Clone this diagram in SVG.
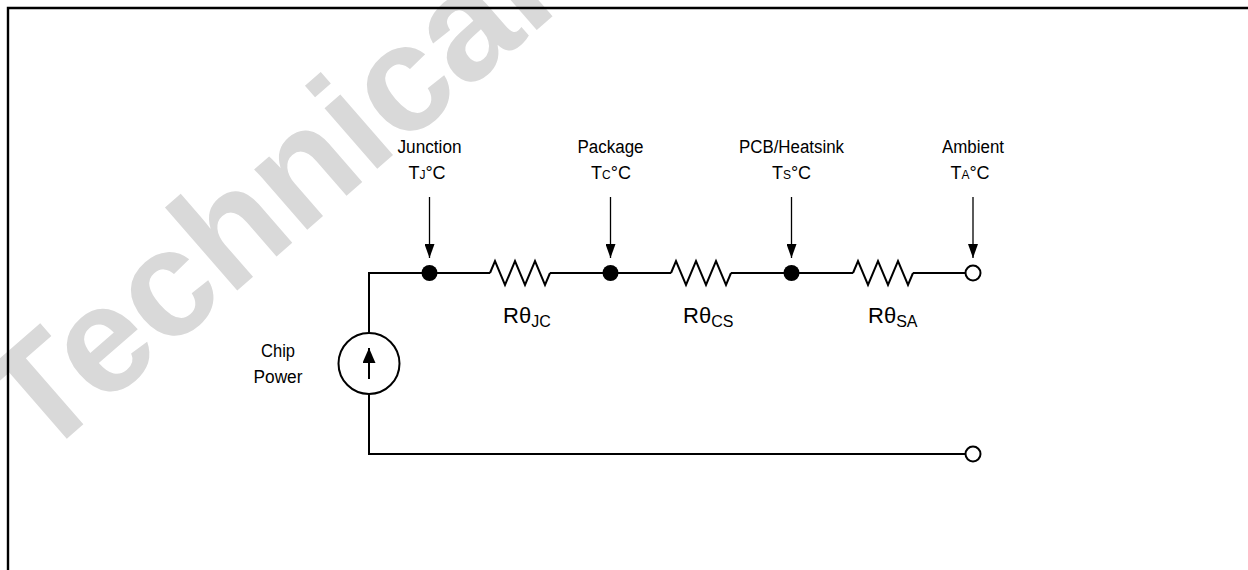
<svg xmlns="http://www.w3.org/2000/svg" width="1248" height="570" viewBox="0 0 1248 570">
<defs>
<style>
.t{font-family:"Liberation Sans",Arial,sans-serif;font-size:18px;fill:#000;text-anchor:middle}
.r{font-family:"Liberation Sans",Arial,sans-serif;font-size:22px;fill:#000}
.sub{font-size:16px}
.ss{font-size:12px}
.w{fill:none;stroke:#000;stroke-width:2;stroke-linejoin:miter}
.pt{fill:none;stroke:#000;stroke-width:1.3}
.dot{fill:#000}
.open{fill:#fff;stroke:#000;stroke-width:2}
.wm{font-family:"Liberation Sans",Arial,sans-serif;font-weight:bold;font-size:152px;fill:#d9d9d9}
</style>
<marker id="ah" markerUnits="userSpaceOnUse" markerWidth="14" markerHeight="10" refX="14" refY="5" orient="auto">
<path d="M0,0 L14,5 L0,10 Z" fill="#000"/>
</marker>
<marker id="ah2" markerUnits="userSpaceOnUse" markerWidth="15" markerHeight="13" refX="15" refY="6.5" orient="auto">
<path d="M0,0 L15,6.5 L0,13 Z" fill="#000"/>
</marker>
</defs>
<rect width="1248" height="570" fill="#fff"/>
<text class="wm" transform="translate(40,462) rotate(-41)">Technical</text>
<path d="M8,570 V8 H1248" fill="none" stroke="#000" stroke-width="2.4"/>

<g id="connectors">
<path class="w" d="M490,273 H369 V333"/>
<path class="w" d="M369,394 V454 H965"/>
<path class="w" d="M550,273 H671"/>
<path class="w" d="M731,273 H853"/>
<path class="w" d="M913,273 H965"/>
<line class="pt" x1="429.5" y1="197" x2="429.5" y2="258" marker-end="url(#ah)"/>
<line class="pt" x1="610.5" y1="197" x2="610.5" y2="258" marker-end="url(#ah)"/>
<line class="pt" x1="791.5" y1="197" x2="791.5" y2="258" marker-end="url(#ah)"/>
<line class="pt" x1="973" y1="197" x2="973" y2="258" marker-end="url(#ah)"/>
</g>

<g id="source">
<circle class="w" cx="369" cy="363.5" r="30.5"/>
<line x1="369" y1="379" x2="369" y2="348" stroke="#000" stroke-width="2" marker-end="url(#ah2)"/>
<text class="t" x="278" y="357" textLength="34" lengthAdjust="spacingAndGlyphs">Chip</text>
<text class="t" x="278" y="383" textLength="49" lengthAdjust="spacingAndGlyphs">Power</text>
</g>

<g id="junction">
<circle class="dot" cx="429.5" cy="273" r="8"/>
<text class="t" x="429.5" y="153" textLength="64" lengthAdjust="spacingAndGlyphs">Junction</text>
<text class="t" x="427" y="179">T<tspan class="ss">J</tspan>°C</text>
</g>

<g id="package">
<circle class="dot" cx="610.5" cy="273" r="8"/>
<text class="t" x="610.5" y="153" textLength="66" lengthAdjust="spacingAndGlyphs">Package</text>
<text class="t" x="611" y="179">T<tspan class="ss">C</tspan>°C</text>
</g>

<g id="heatsink">
<circle class="dot" cx="791.5" cy="273" r="8"/>
<text class="t" x="791.5" y="153" textLength="105" lengthAdjust="spacingAndGlyphs">PCB/Heatsink</text>
<text class="t" x="791.5" y="179">T<tspan class="ss">S</tspan>°C</text>
</g>

<g id="ambient">
<circle class="open" cx="973" cy="273" r="7.5"/>
<text class="t" x="973" y="153" textLength="62" lengthAdjust="spacingAndGlyphs">Ambient</text>
<text class="t" x="970" y="179">T<tspan class="ss">A</tspan>°C</text>
</g>

<g id="ground">
<circle class="open" cx="973" cy="454" r="7.5"/>
</g>

<g id="rjc">
<path class="w" d="M490,273 L495,261 L505,285 L515,261 L525,285 L535,261 L545,285 L550,273"/>
<text class="r" x="503" y="323">Rθ<tspan class="sub" dy="4">JC</tspan></text>
</g>

<g id="rcs">
<path class="w" d="M671,273 L676,261 L686,285 L696,261 L706,285 L716,261 L726,285 L731,273"/>
<text class="r" x="683" y="323">Rθ<tspan class="sub" dy="4">CS</tspan></text>
</g>

<g id="rsa">
<path class="w" d="M853,273 L858,261 L868,285 L878,261 L888,285 L898,261 L908,285 L913,273"/>
<text class="r" x="868" y="323">Rθ<tspan class="sub" dy="4">SA</tspan></text>
</g>
</svg>
